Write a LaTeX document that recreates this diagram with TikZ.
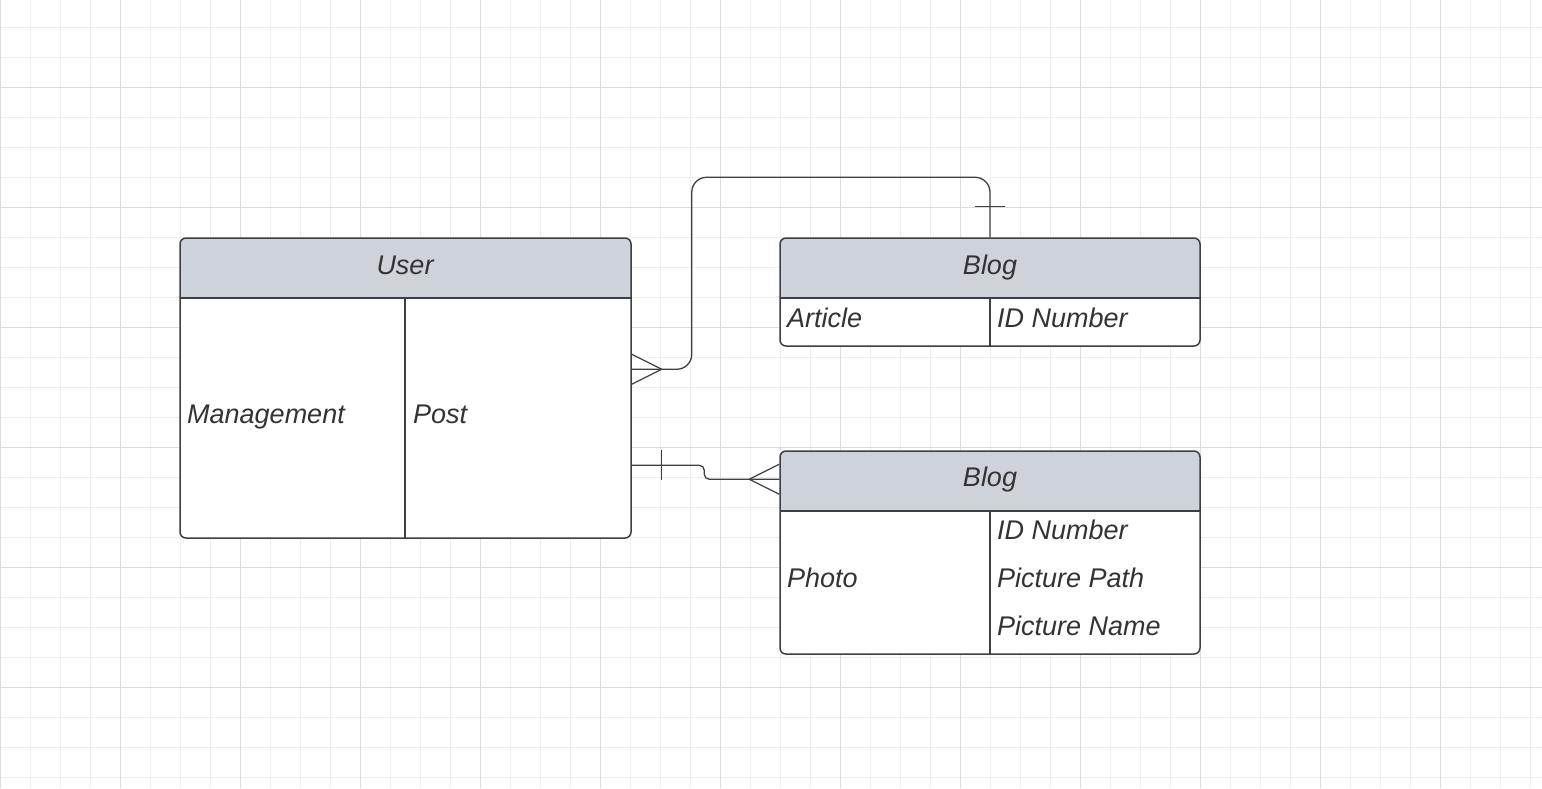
\documentclass[tikz,border=0pt]{standalone}
\usepackage{fontspec}
\setmainfont{Liberation Sans}
\usetikzlibrary{calc}
\definecolor{gridminor}{HTML}{EEEEEE}
\definecolor{gridmajor}{HTML}{DCDCDC}
\definecolor{hdr}{HTML}{CED3DA}
\definecolor{ink}{HTML}{3C3F44}
\definecolor{txt}{HTML}{333333}
\begin{document}
\begin{tikzpicture}[x=1pt,y=-1pt,
  lbl/.style={font=\fontsize{27}{30}\selectfont\itshape, text=txt, inner sep=0pt, anchor=base},
  lbll/.style={lbl, anchor=base west},
  tbl/.style={draw=ink, line width=1.5pt, rounded corners=6pt, inner sep=0pt},
  conn/.style={draw=ink, line width=1.3pt},
  sep/.style={draw=ink, line width=1.3pt},
  ]
\fill[white] (0,0) rectangle (1542,788);
\useasboundingbox (0,0) rectangle (1542,788);
\foreach \x in {0,30,...,1530} \draw[gridminor, line width=1pt] (\x,0) -- (\x,788);
\foreach \y in {27,57,...,777} \draw[gridminor, line width=1pt] (0,\y) -- (1542,\y);
\foreach \x in {0,120,...,1440} \draw[gridmajor, line width=1pt] (\x,0) -- (\x,788);
\foreach \y in {87,207,...,687} \draw[gridmajor, line width=1pt] (0,\y) -- (1542,\y);

% User table
\fill[white, rounded corners=6pt] (180,238) rectangle (631,538);
\fill[hdr, rounded corners=6pt] (180,238) rectangle (631,298);
\fill[hdr] (180,270) rectangle (631,298);
\draw[sep] (180,298) -- (631,298);
\draw[sep] (405,298) -- (405,538);
\node[tbl, minimum width=451pt, minimum height=300pt] (user) at (405.5,388) {};
\node[lbl] (userT) at (405,274) {User};
\node[lbll] (mgmt) at (187,423) {Management};
\node[lbll] (post) at (413,423) {Post};

% Blog table 1
\fill[white, rounded corners=6pt] (780,238) rectangle (1200,346);
\fill[hdr, rounded corners=6pt] (780,238) rectangle (1200,298);
\fill[hdr] (780,270) rectangle (1200,298);
\draw[sep] (780,298) -- (1200,298);
\draw[sep] (990,298) -- (990,346);
\node[tbl, minimum width=420pt, minimum height=108pt] (blog1) at (990,292) {};
\node[lbl] (blog1T) at (990,274) {Blog};
\node[lbll] (article) at (787,327) {Article};
\node[lbll] (id1) at (997,327) {ID Number};

% Blog table 2
\fill[white, rounded corners=6pt] (780,451) rectangle (1200,654);
\fill[hdr, rounded corners=6pt] (780,451) rectangle (1200,511);
\fill[hdr] (780,483) rectangle (1200,511);
\draw[sep] (780,511) -- (1200,511);
\draw[sep] (990,511) -- (990,654);
\node[tbl, minimum width=420pt, minimum height=203pt] (blog2) at (990,552.5) {};
\node[lbl] (blog2T) at (990,486) {Blog};
\node[lbll] (photo) at (787,587) {Photo};
\node[lbll] (id2) at (997,539) {ID Number};
\node[lbll] (ppath) at (997,587) {Picture Path};
\node[lbll] (pname) at (997,635) {Picture Name};

% Connector 1: User (many) -- Blog1 (one)
\coordinate (u1) at ($(user.north east)+(0,132)$);
\draw[conn, rounded corners=15pt] (blog1.north) -- ++(0,-60) -| ($(u1)+(60,0)$) -- (u1);
\draw[conn] ($(u1)+(30,0)$) -- ($(u1)+(0,-15)$)
            ($(u1)+(30,0)$) -- ($(u1)+(0,15)$);
\draw[conn] ($(blog1.north)+(-15,-31)$) -- ($(blog1.north)+(15,-31)$);

% Connector 2: User (one) -- Blog2 (many)
\coordinate (u2) at ($(user.north east)+(0,228)$);
\coordinate (b2) at ($(blog2.north west)+(0,29)$);
\draw[conn, rounded corners=5pt] (u2) -| ($(b2)+(-75,0)$) -- (b2);
\draw[conn] ($(u2)+(30,-15)$) -- ($(u2)+(30,15)$);
\draw[conn] ($(b2)+(-30,0)$) -- ($(b2)+(0,-15)$)
            ($(b2)+(-30,0)$) -- ($(b2)+(0,15)$);
\end{tikzpicture}
\end{document}
